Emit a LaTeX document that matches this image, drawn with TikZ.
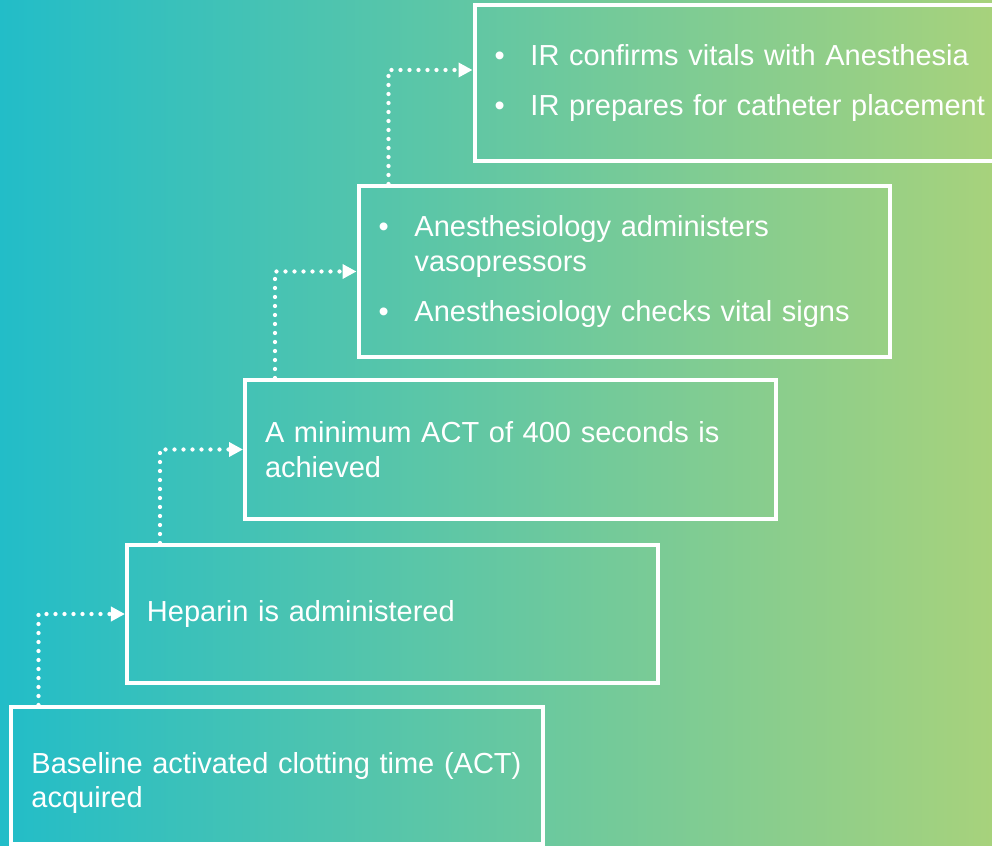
\documentclass[tikz,border=0pt]{standalone}
\usepackage{fontspec}
\setmainfont{Liberation Sans}
\usetikzlibrary{arrows.meta,calc}
\definecolor{tealstart}{HTML}{22BDC8}
\definecolor{greenend}{HTML}{A7D27C}
\newcommand{\bitem}{\makebox[0.72cm][l]{\textbullet}}
\newcommand{\bindent}{\hspace*{0.72cm}}

\begin{document}
\begin{tikzpicture}[x=0.2mm,y=-0.2mm]

\tikzstyle{stepbox}=[draw=white, line width=0.08cm, text=white, text width=9.82cm, inner xsep=0.4cm, align=left, font=\fontsize{16.5}{19.9}\selectfont]
\tikzstyle{flow}=[white, line width=0.085cm, line cap=round, dash pattern=on 0pt off 0.18cm, -{Triangle[length=0.28cm,width=0.28cm]}]

\clip (0,0) rectangle (992,846);
\shade[left color=tealstart, right color=greenend] (0,0) rectangle (992,846);

\node[stepbox, minimum height=2.74cm, text depth=0.52cm] (b1) at (277,775.5) {Baseline activated clotting time (ACT)\\ acquired};
\node[stepbox, minimum height=2.76cm] (b2) at (392.5,614) {Heparin is administered};
\node[stepbox, minimum height=2.78cm] (b3) at (510.5,449.5) {A minimum ACT of 400 seconds is\\ achieved};
\node[stepbox, minimum height=3.42cm] (b4) at (624,271.5) {\bitem Anesthesiology administers\\ \bindent vasopressors\\[0.3cm] \bitem Anesthesiology checks vital signs};
\node[stepbox, minimum height=3.12cm] (b5) at (740,83) {\bitem IR confirms vitals with Anesthesia\\[0.3cm] \bitem IR prepares for catheter placement};

\draw[flow] ([xshift=0.58cm]b1.north west) |- (b2.west);
\draw[flow] ([xshift=0.7cm]b2.north west) |- (b3.west);
\draw[flow] ([xshift=0.64cm]b3.north west) |- (b4.west);
\draw[flow] ([xshift=0.64cm]b4.north west) |- ([yshift=0.26cm]b5.west);

\end{tikzpicture}
\end{document}
